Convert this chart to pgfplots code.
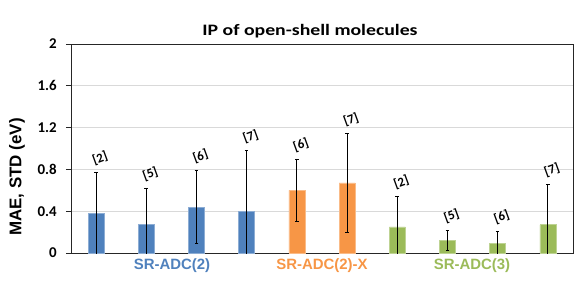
\documentclass[border=0pt]{standalone}
\usepackage{fontspec}
\setmainfont{Carlito}[BoldFont={Carlito Bold}]
\newfontfamily\titlefont{Carlito Bold}[FakeStretch=1.24]
\newfontfamily\arial{Liberation Sans}[BoldFont={Liberation Sans Bold}]
\usepackage{pgfplots}
\pgfplotsset{compat=1.18}
\usepackage{pgfplotstable}
\definecolor{cblue}{HTML}{4F81BD}
\definecolor{corange}{HTML}{F79646}
\definecolor{cgreen}{HTML}{9BBB59}
\definecolor{gridc}{HTML}{D9D9D9}
\definecolor{axc}{HTML}{262626}

\pgfplotstableread{
x y e top lab
0 0.38 0.39 0.77 2
1 0.27 0.35 0.62 5
2 0.44 0.35 0.79 6
3 0.40 0.58 0.98 7
}\tblue
\pgfplotstableread{
x y e top lab
4 0.60 0.30 0.90 6
5 0.67 0.47 1.14 7
}\torange
\pgfplotstableread{
x y e top lab
6 0.25 0.29 0.54 2
7 0.12 0.10 0.22 5
8 0.09 0.12 0.21 6
9 0.27 0.39 0.66 7
}\tgreen
\pgfplotstableread{
x top lab
0 0.77 2
1 0.62 5
2 0.79 6
3 0.98 7
4 0.90 6
5 1.14 7
6 0.54 2
7 0.22 5
8 0.21 6
9 0.66 7
}\tlabels

\begin{document}
\begin{tikzpicture}
\path[use as bounding box] (-71bp,-30bp) rectangle (510bp,253bp);
\begin{axis}[
  scale only axis, width=502bp, height=209bp,
  xmin=-0.5, xmax=9.5, ymin=0, ymax=2,
  xtick=\empty,
  ytick={0,0.4,0.8,1.2,1.6,2},
  ytick pos=left, tick align=outside,
  major tick length=5bp,
  ymajorgrids, grid style={gridc, line width=0.8pt},
  axis line style={axc, line width=1pt},
  tick style={axc, line width=0.8pt},
  /pgf/number format/assume math mode=true,
  yticklabel style={font=\bfseries\fontsize{15}{17}\selectfont, inner sep=0pt, xshift=-9bp},
  clip mode=individual,
  error bars/error bar style={black, line width=1.1pt},
  error bars/error mark options={rotate=90, mark size=1.8bp, line width=0.9pt, black},
]
\addplot[ybar, bar width=16bp, bar shift=0pt, fill=cblue, draw=cblue!65!white, line width=0.6pt,
  error bars/.cd, y dir=both, y explicit] table[x=x, y=y, y error=e]{\tblue};
\addplot[ybar, bar width=16bp, bar shift=0pt, fill=corange, draw=corange!65!white, line width=0.6pt,
  error bars/.cd, y dir=both, y explicit] table[x=x, y=y, y error=e]{\torange};
\addplot[ybar, bar width=16bp, bar shift=0pt, fill=cgreen, draw=cgreen!65!white, line width=0.6pt,
  error bars/.cd, y dir=both, y explicit] table[x=x, y=y, y error=e]{\tgreen};
\addplot[draw=none, mark=none, point meta=explicit symbolic,
  nodes near coords={\rotatebox{20}{[\pgfplotspointmeta]}},
  every node near coord/.style={font=\bfseries\fontsize{13}{15}\selectfont, anchor=center, inner sep=0pt, yshift=14bp, xshift=4bp, text=black}]
  table[x=x, y=top, meta=lab]{\tlabels};
\end{axis}
\node[font=\titlefont\fontsize{16}{19}\selectfont] at (239bp,222bp) {IP of open-shell molecules};
\node[rotate=90, font=\arial\bfseries\fontsize{17}{20}\selectfont] at (-54bp,76bp) {MAE, STD (eV)};
\node[text=cblue, font=\arial\bfseries\fontsize{15}{17}\selectfont] at (101bp,-13bp) {SR-ADC(2)};
\node[text=corange, font=\arial\bfseries\fontsize{15}{17}\selectfont] at (251bp,-13bp) {SR-ADC(2)-X};
\node[text=cgreen, font=\arial\bfseries\fontsize{15}{17}\selectfont] at (401bp,-13bp) {SR-ADC(3)};
\end{tikzpicture}
\end{document}
